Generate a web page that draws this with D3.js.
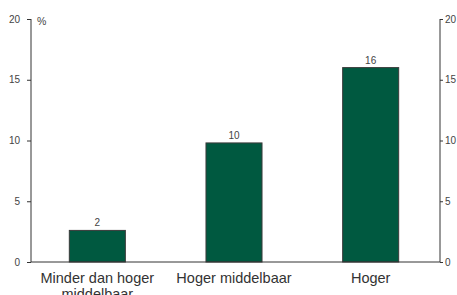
<!DOCTYPE html>
<html>
<head>
<meta charset="utf-8">
<script src="https://cdn.jsdelivr.net/npm/d3@7"></script>
<style>
  body { margin: 0; background: #fff; }
  svg { display: block; font-family: "Liberation Sans", Arial, sans-serif; }
</style>
</head>
<body>
<div></div>
<script>
var width = 457,
    height = 295;

// data
var categories = ["Minder dan hoger middelbaar", "Hoger middelbaar", "Hoger"];
var values = [2.6, 9.8, 16.0];
var valueLabels = ["2", "10", "16"];
var yTicks = [0, 5, 10, 15, 20];

var plotLeft = 31, plotRight = 440, plotTop = 19, plotBottom = 262;

var svg = d3.select("div").append("svg")
    .attr("width", width)
    .attr("height", height);

var x = d3.scaleBand().domain(categories).range([29, 439]).paddingInner(0.59).paddingOuter(0.295);
var y = d3.scaleLinear().domain([0, 20]).range([plotBottom, plotTop]);

// bars
svg.selectAll("rect.bar").data(values).enter().append("rect")
    .attr("class", "bar")
    .attr("x", function (d, i) { return x(categories[i]); })
    .attr("y", function (d) { return y(d); })
    .attr("width", x.bandwidth())
    .attr("height", function (d) { return y(0) - y(d); })
    .attr("fill", "#005940")
    .attr("stroke", "#3a3a3a")
    .attr("stroke-width", 1);

svg.selectAll("text.val").data(values).enter().append("text")
    .attr("class", "val")
    .attr("x", function (d, i) { return x(categories[i]) + x.bandwidth() / 2; })
    .attr("y", function (d) { return y(d) - 4; })
    .attr("text-anchor", "middle")
    .attr("font-size", 10)
    .attr("fill", "#444")
    .text(function (d, i) { return valueLabels[i]; });

// axes
var leftAxis = d3.axisLeft(y).tickValues(yTicks).tickSize(4).tickPadding(7);
var rightAxis = d3.axisRight(y).tickValues(yTicks).tickSize(3).tickPadding(2);

var gl = svg.append("g").attr("transform", "translate(" + plotLeft + ",0)").call(leftAxis);
var gr = svg.append("g").attr("transform", "translate(" + plotRight + ",0)").call(rightAxis);
[gl, gr].forEach(function (g) {
  g.select(".domain").remove();
  g.selectAll("line").attr("stroke", "#333");
  g.selectAll("text").attr("font-size", 10).attr("fill", "#444")
    .attr("font-family", "Liberation Sans, Arial, sans-serif");
  g.append("line").attr("x1", 0).attr("x2", 0).attr("y1", y(20)).attr("y2", y(0))
    .attr("stroke", "#333");
});

// baseline
svg.append("line")
    .attr("x1", plotLeft).attr("x2", plotRight)
    .attr("y1", y(0)).attr("y2", y(0))
    .attr("stroke", "#333");

svg.append("text")
    .attr("x", 37).attr("y", y(20) + 6)
    .attr("font-size", 10.5).attr("fill", "#444")
    .text("%");

// category labels (wrapped)
var wrapped = [["Minder dan hoger", "middelbaar"], ["Hoger middelbaar"], ["Hoger"]];
categories.forEach(function (c, i) {
  var t = svg.append("text")
      .attr("x", x(c) + x.bandwidth() / 2)
      .attr("y", 283)
      .attr("text-anchor", "middle")
      .attr("font-size", 14.5)
      .attr("fill", "#333");
  wrapped[i].forEach(function (line, k) {
    t.append("tspan").attr("x", x(c) + x.bandwidth() / 2).attr("dy", k ? 16 : 0).text(line);
  });
});
</script>
</body>
</html>
